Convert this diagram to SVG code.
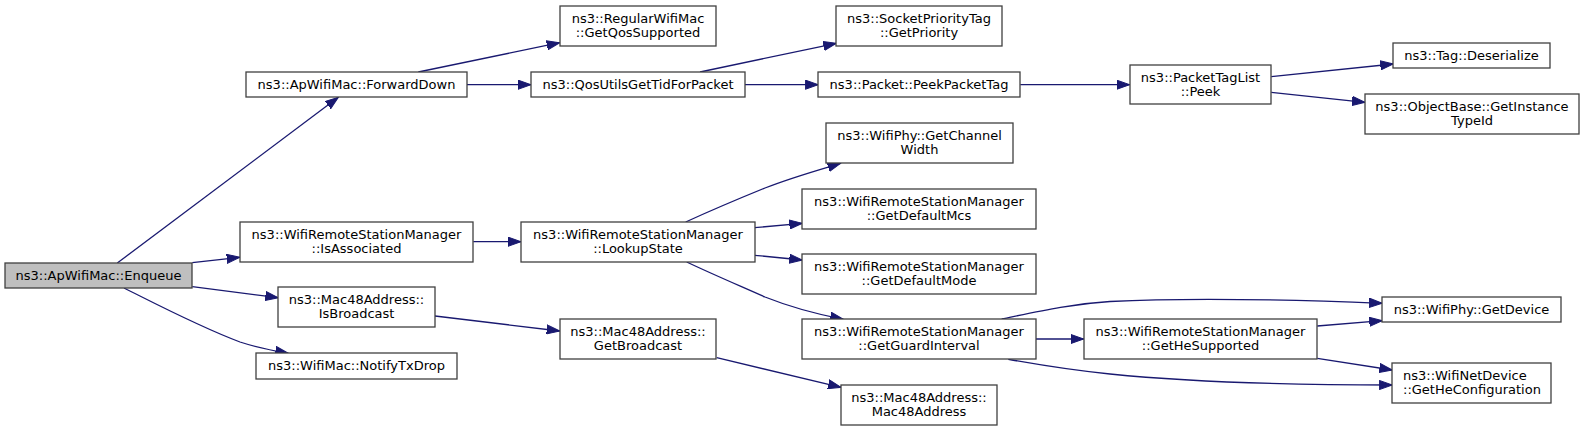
<svg xmlns="http://www.w3.org/2000/svg" width="1584" height="431" viewBox="0 0 1584 431">
<style>
.n rect{fill:#ffffff;stroke:#404040;stroke-width:1.3}
.n.root rect{fill:#bfbfbf}
.n text{font-family:"DejaVu Sans",sans-serif;font-size:13px;fill:#000000;text-anchor:middle}
.n text.l{text-anchor:start}
#edges path{fill:none;stroke:#191970;stroke-width:1.3;marker-end:url(#arr)}
</style>
<defs>
<marker id="arr" markerWidth="14" markerHeight="10" refX="13" refY="5" orient="auto" markerUnits="userSpaceOnUse">
<path d="M0,0.4 L13,5 L0,9.6 Z" fill="#191970" stroke="#191970" stroke-width="1"/>
</marker>
</defs>
<rect width="1584" height="431" fill="#ffffff"/>
<g id="edges">
<path d="M117.3,263 L338.3,97.3"/>
<path d="M192.3,262.7 L239.7,257.3"/>
<path d="M192.3,286.7 L278.3,297.7"/>
<path d="M124,288 C160,306 200,327 240,342 C255,347 270,350 288.3,353.3"/>
<path d="M418.3,72 L559.7,42.7"/>
<path d="M466.7,84.7 L531,84.7"/>
<path d="M700,72 L836.3,43.3"/>
<path d="M744.7,84.7 L818.3,84.7"/>
<path d="M1020.3,84.7 L1129.7,84.7"/>
<path d="M1271.3,76.7 L1393.3,64"/>
<path d="M1271.3,92.3 L1365,102.3"/>
<path d="M473.3,241.7 L521,241.7"/>
<path d="M685.7,222 C712,210 738,199 765,188 C790,178 815,171 840.7,163.3"/>
<path d="M754.7,227.7 L802.3,223.3"/>
<path d="M754.7,255.3 L802.3,260"/>
<path d="M686.7,262 C712,274 738,285 765,297 C790,307 816,314 843.3,319.3"/>
<path d="M435,316 L559.7,331"/>
<path d="M716.7,357.7 L841,387.3"/>
<path d="M1036,339 L1083.7,339"/>
<path d="M1001.7,319 C1040,311 1070,304 1110,301.5 C1200,297 1300,300 1382.3,303.3"/>
<path d="M1008.3,359.3 C1040,365 1070,370 1110,374 C1200,383 1300,385 1392.3,385"/>
<path d="M1317.3,326 L1382.3,320.7"/>
<path d="M1317.3,358.3 L1392.3,370"/>
</g>
<g id="n1" class="n root"><rect x="5" y="263" width="187" height="25"/><text x="98.5" y="279.6">ns3::ApWifiMac::Enqueue</text></g>
<g id="n2" class="n"><rect x="246" y="72" width="221" height="25"/><text x="356.5" y="88.6">ns3::ApWifiMac::ForwardDown</text></g>
<g id="n3" class="n"><rect x="240" y="222" width="233" height="40"/><text x="356.5" y="239">ns3::WifiRemoteStationManager</text><text x="356.5" y="253.3">::IsAssociated</text></g>
<g id="n4" class="n"><rect x="278" y="287" width="157" height="40"/><text x="356.5" y="304">ns3::Mac48Address::</text><text x="356.5" y="318.3">IsBroadcast</text></g>
<g id="n5" class="n"><rect x="256" y="353" width="201" height="26"/><text x="356.5" y="370.1">ns3::WifiMac::NotifyTxDrop</text></g>
<g id="n6" class="n"><rect x="560" y="6" width="156" height="40"/><text x="638" y="23">ns3::RegularWifiMac</text><text x="638" y="37.3">::GetQosSupported</text></g>
<g id="n7" class="n"><rect x="836" y="6" width="166" height="40"/><text x="919" y="23">ns3::SocketPriorityTag</text><text x="919" y="37.3">::GetPriority</text></g>
<g id="n8" class="n"><rect x="531" y="72" width="214" height="25"/><text x="638" y="88.6">ns3::QosUtilsGetTidForPacket</text></g>
<g id="n9" class="n"><rect x="818" y="72" width="202" height="25"/><text x="919" y="88.6">ns3::Packet::PeekPacketTag</text></g>
<g id="n10" class="n"><rect x="1130" y="65" width="141" height="39"/><text x="1200.5" y="81.5">ns3::PacketTagList</text><text x="1200.5" y="95.8">::Peek</text></g>
<g id="n11" class="n"><rect x="1393" y="43" width="157" height="25"/><text x="1471.5" y="59.6">ns3::Tag::Deserialize</text></g>
<g id="n12" class="n"><rect x="1365" y="94" width="214" height="40"/><text x="1472" y="111">ns3::ObjectBase::GetInstance</text><text x="1472" y="125.3">TypeId</text></g>
<g id="n13" class="n"><rect x="521" y="222" width="234" height="40"/><text x="638" y="239">ns3::WifiRemoteStationManager</text><text x="638" y="253.3">::LookupState</text></g>
<g id="n14" class="n"><rect x="826" y="123" width="187" height="40"/><text x="919.5" y="140">ns3::WifiPhy::GetChannel</text><text x="919.5" y="154.3">Width</text></g>
<g id="n15" class="n"><rect x="802" y="189" width="234" height="40"/><text x="919" y="206">ns3::WifiRemoteStationManager</text><text x="919" y="220.3">::GetDefaultMcs</text></g>
<g id="n16" class="n"><rect x="802" y="254" width="234" height="40"/><text x="919" y="271">ns3::WifiRemoteStationManager</text><text x="919" y="285.3">::GetDefaultMode</text></g>
<g id="n17" class="n"><rect x="802" y="319" width="234" height="40"/><text x="919" y="336">ns3::WifiRemoteStationManager</text><text x="919" y="350.3">::GetGuardInterval</text></g>
<g id="n18" class="n"><rect x="560" y="319" width="156" height="40"/><text x="638" y="336">ns3::Mac48Address::</text><text x="638" y="350.3">GetBroadcast</text></g>
<g id="n19" class="n"><rect x="841" y="385" width="156" height="40"/><text x="919" y="402">ns3::Mac48Address::</text><text x="919" y="416.3">Mac48Address</text></g>
<g id="n20" class="n"><rect x="1084" y="319" width="233" height="40"/><text x="1200.5" y="336">ns3::WifiRemoteStationManager</text><text x="1200.5" y="350.3">::GetHeSupported</text></g>
<g id="n21" class="n"><rect x="1382" y="297" width="179" height="25"/><text x="1471.5" y="313.6">ns3::WifiPhy::GetDevice</text></g>
<g id="n22" class="n"><rect x="1392" y="363" width="159" height="40"/><text class="l" x="1403" y="380">ns3::WifiNetDevice</text><text class="l" x="1403" y="394.3">::GetHeConfiguration</text></g>
</svg>
